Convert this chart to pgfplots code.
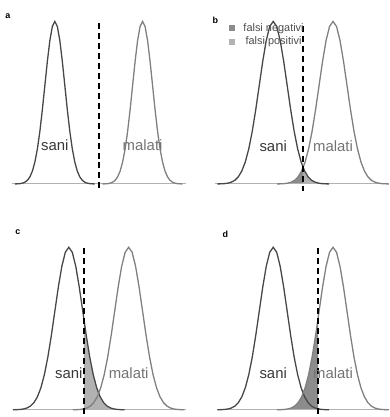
\documentclass[border=0pt]{standalone}
\usepackage{fontspec}
\setmainfont{Liberation Sans}
\usepackage{pgfplots}
\pgfplotsset{compat=1.18}
\usepackage{pgfplotstable}
\usepgfplotslibrary{fillbetween}

% standard normal shape, peak = 1 (z in units of sigma)
\pgfplotstableread{
z      y
-4.00  0.00034
-3.75  0.00088
-3.50  0.00219
-3.25  0.00509
-3.00  0.01111
-2.75  0.02279
-2.50  0.04394
-2.25  0.07956
-2.00  0.13534
-1.75  0.21627
-1.50  0.32465
-1.25  0.45783
-1.00  0.60653
-0.75  0.75484
-0.50  0.88250
-0.25  0.96923
 0.00  1.00000
 0.25  0.96923
 0.50  0.88250
 0.75  0.75484
 1.00  0.60653
 1.25  0.45783
 1.50  0.32465
 1.75  0.21627
 2.00  0.13534
 2.25  0.07956
 2.50  0.04394
 2.75  0.02279
 3.00  0.01111
 3.25  0.00509
 3.50  0.00219
 3.75  0.00088
 4.00  0.00034
}\shape

\tikzset{
  sani/.style={black!72, line width=1.3bp},
  malati/.style={black!50, line width=1.3bp},
  base/.style={black!30, line width=1bp},
  soglia/.style={black, line width=2.4bp, dash pattern=on 6bp off 4bp},
  fn/.style={fill=black!45, draw=none},
  fp/.style={fill=black!30, draw=none},
  lab/.style={font=\fontsize{15}{15}\selectfont},
  letter/.style={font=\bfseries\fontsize{9}{9}\selectfont},
}
\pgfplotsset{
  panel/.style={scale only axis, hide axis, clip=false, width=193.5bp, anchor=south west},
  toppanel/.style={panel, height=210bp, ymin=-0.1564, ymax=1.1319},
  botpanel/.style={panel, height=207bp, ymin=-0.0368, ymax=1.2331},
}

\begin{document}
\begin{tikzpicture}
\path (0bp,0bp) rectangle (387bp,417bp);

% a
\begin{axis}[toppanel, at={(0bp,207bp)}, xmin=0, xmax=193.5]
\addplot[base, name path=base] coordinates {(12,0) (187,0)};
\addplot[sani, name path=sani] table[x expr=\thisrow{z}*10+55, y=y] {\shape};
\addplot[malati, name path=malati] table[x expr=\thisrow{z}*10+143, y=y] {\shape};
\addplot[soglia] coordinates {(99,0.991) (99,-0.046)};
\node[lab, text=black!78] at (axis cs:55,0.24) {sani};
\node[lab, text=black!55] at (axis cs:143,0.24) {malati};
\end{axis}

% b
\begin{axis}[toppanel, at={(193.5bp,207bp)}, xmin=193.5, xmax=387,
  legend style={at={(axis cs:229,1.0)}, anchor=north west, draw=none, fill=none,
    inner sep=0pt, font=\fontsize{11}{11}\selectfont, text=black!70, row sep=0pt},
  legend image code/.code={\fill[#1] (0bp,-3bp) rectangle (6bp,3bp); \path (13bp,0bp);}]
\addplot[base, name path=base, forget plot] coordinates {(216,0) (386,0)};
\addplot[sani, name path=sani, forget plot] table[x expr=\thisrow{z}*14+274, y=y] {\shape};
\addplot[malati, name path=malati, forget plot] table[x expr=\thisrow{z}*14+334, y=y] {\shape};
\addplot[fp, forget plot] fill between[of=sani and base, soft clip={domain=304:400}];
\addplot[fn, forget plot] fill between[of=malati and base, soft clip={domain=190:304}];
\addplot[soglia, forget plot] coordinates {(304,0.97) (304,-0.046)};
\node[lab, text=black!78] at (axis cs:274,0.23) {sani};
\node[lab, text=black!55] at (axis cs:334,0.23) {malati};
\addlegendimage{fn}
\addlegendentry{falsi negativi}
\addlegendimage{fp}
\addlegendentry{falsi positivi}
\end{axis}

% c
\begin{axis}[botpanel, at={(0bp,0bp)}, xmin=0, xmax=193.5]
\addplot[base, name path=base] coordinates {(13,0) (187,0)};
\addplot[sani, name path=sani] table[x expr=\thisrow{z}*14+69, y=y] {\shape};
\addplot[malati, name path=malati] table[x expr=\thisrow{z}*14+129, y=y] {\shape};
\addplot[fp] fill between[of=sani and base, soft clip={domain=84:200}];
\addplot[fn] fill between[of=malati and base, soft clip={domain=0:84}];
\addplot[soglia] coordinates {(84,0.994) (84,-0.0368)};
\node[lab, text=black!78] at (axis cs:69,0.227) {sani};
\node[lab, text=black!55] at (axis cs:129,0.227) {malati};
\end{axis}

% d
\begin{axis}[botpanel, at={(193.5bp,0bp)}, xmin=193.5, xmax=387]
\addplot[base, name path=base] coordinates {(218,0) (386,0)};
\addplot[sani, name path=sani] table[x expr=\thisrow{z}*14+274, y=y] {\shape};
\addplot[malati, name path=malati] table[x expr=\thisrow{z}*14+334, y=y] {\shape};
\addplot[fp] fill between[of=sani and base, soft clip={domain=319:400}];
\addplot[fn] fill between[of=malati and base, soft clip={domain=190:319}];
\addplot[soglia] coordinates {(319,0.994) (319,-0.0368)};
\node[lab, text=black!78] at (axis cs:274,0.227) {sani};
\node[lab, text=black!55] at (axis cs:334,0.227) {malati};
\end{axis}

\node[letter] at (8bp,401bp) {a};
\node[letter] at (216bp,397bp) {b};
\node[letter] at (18bp,184bp) {c};
\node[letter] at (226bp,182bp) {d};
\end{tikzpicture}
\end{document}
